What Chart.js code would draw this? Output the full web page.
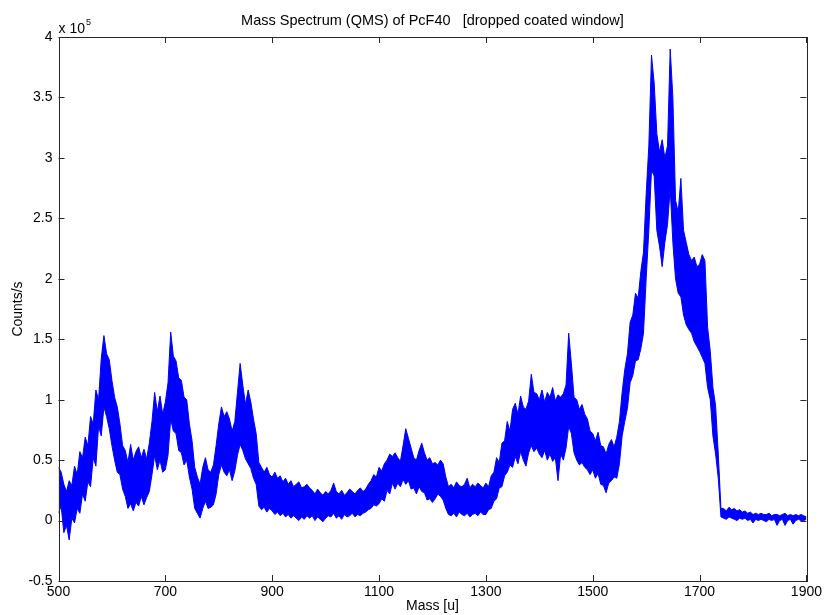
<!DOCTYPE html>
<html>
<head>
<meta charset="utf-8">
<title>Mass Spectrum (QMS) of PcF40</title>
<script src="https://cdn.jsdelivr.net/npm/chart.js@4.4.1/dist/chart.umd.min.js"></script>
<style>
    html, body { margin: 0; padding: 0; background: #fff; }
    #wrap { width: 825px; height: 615px; }
</style>
</head>
<body>
<div id="wrap"><canvas id="spectrum" width="825" height="615"></canvas></div>
<script>
// Sampling grid of the spectrum (mass in u)
const massStart = 500;
const massStep = 5;

// Upper and lower edge of the noise band, counts/s in units of 10^5
const upper = [
    0.44, 0.40, 0.30, 0.24, 0.33, 0.29, 0.45, 0.38, 0.57, 0.52, 0.69, 0.62, 0.86, 0.80, 1.08, 1.00, 1.34, 1.53, 1.38, 1.33, // 500
    1.16, 1.02, 0.94, 0.80, 0.62, 0.58, 0.48, 0.63, 0.50, 0.57, 0.61, 0.52, 0.59, 0.51, 0.64, 0.82, 1.06, 0.90, 1.03, 0.88, // 600
    0.98, 1.14, 1.56, 1.36, 1.32, 1.18, 1.16, 1.02, 1.00, 0.80, 0.66, 0.44, 0.36, 0.30, 0.44, 0.52, 0.42, 0.40, 0.46, 0.62, // 700
    0.80, 0.94, 0.86, 0.90, 0.84, 0.74, 0.82, 1.06, 1.30, 1.12, 0.96, 1.08, 0.98, 0.84, 0.72, 0.48, 0.44, 0.40, 0.44, 0.38, // 800
    0.36, 0.40, 0.35, 0.37, 0.32, 0.35, 0.30, 0.33, 0.28, 0.30, 0.32, 0.27, 0.28, 0.30, 0.27, 0.25, 0.22, 0.26, 0.23, 0.21, // 900
    0.24, 0.22, 0.25, 0.31, 0.24, 0.22, 0.25, 0.21, 0.23, 0.26, 0.24, 0.22, 0.25, 0.27, 0.24, 0.26, 0.30, 0.33, 0.38, 0.36, // 1000
    0.44, 0.41, 0.47, 0.50, 0.55, 0.53, 0.56, 0.52, 0.49, 0.62, 0.76, 0.68, 0.60, 0.52, 0.50, 0.58, 0.64, 0.56, 0.50, 0.52, // 1100
    0.47, 0.48, 0.46, 0.50, 0.47, 0.36, 0.28, 0.30, 0.27, 0.32, 0.29, 0.28, 0.30, 0.35, 0.27, 0.30, 0.28, 0.31, 0.29, 0.27, // 1200
    0.31, 0.28, 0.37, 0.40, 0.52, 0.48, 0.64, 0.66, 0.82, 0.74, 0.92, 0.97, 0.88, 1.03, 0.94, 0.92, 0.99, 1.21, 1.06, 1.05, // 1300
    1.00, 1.08, 0.98, 1.06, 1.02, 1.10, 0.99, 1.04, 1.02, 1.05, 1.12, 1.55, 1.30, 1.02, 1.00, 0.92, 0.96, 0.88, 0.84, 0.74, // 1400
    0.72, 0.66, 0.73, 0.62, 0.61, 0.55, 0.63, 0.67, 0.61, 0.69, 0.82, 1.06, 1.25, 1.38, 1.64, 1.70, 1.88, 1.84, 2.06, 2.22, // 1500
    2.70, 3.10, 3.85, 3.62, 3.20, 3.05, 3.15, 3.00, 3.10, 3.90, 3.50, 2.65, 2.55, 2.83, 2.40, 2.30, 2.20, 2.15, 2.18, 2.10, // 1600
    2.12, 2.20, 2.15, 1.60, 1.40, 1.10, 0.95, 0.55, 0.10, 0.10, 0.08, 0.11, 0.09, 0.10, 0.08, 0.09, 0.07, 0.08, 0.06, 0.07, // 1700
    0.05, 0.06, 0.05, 0.06, 0.05, 0.05, 0.06, 0.04, 0.05, 0.05, 0.04, 0.05, 0.06, 0.04, 0.05, 0.04, 0.05, 0.04, 0.05, 0.04, // 1800
    0.03                                                                                                                    // 1900
];
const lower = [
    0.06, 0.12, -0.10, -0.04, -0.16, 0.02, -0.02, 0.10, 0.06, 0.22, 0.16, 0.32, 0.28, 0.52, 0.45, 0.78, 0.70, 0.94, 0.86, 0.76, // 500
    0.62, 0.50, 0.40, 0.38, 0.26, 0.20, 0.10, 0.14, 0.08, 0.15, 0.12, 0.20, 0.13, 0.19, 0.24, 0.38, 0.54, 0.42, 0.50, 0.40, // 600
    0.42, 0.54, 0.84, 0.74, 0.72, 0.58, 0.56, 0.46, 0.50, 0.36, 0.26, 0.10, 0.06, 0.02, 0.10, 0.16, 0.10, 0.11, 0.13, 0.22, // 700
    0.38, 0.46, 0.40, 0.37, 0.42, 0.33, 0.41, 0.54, 0.63, 0.58, 0.51, 0.47, 0.43, 0.35, 0.30, 0.12, 0.09, 0.11, 0.07, 0.10, // 800
    0.08, 0.05, 0.07, 0.04, 0.06, 0.03, 0.05, 0.02, 0.04, 0.02, 0.00, 0.03, 0.01, 0.04, 0.02, 0.04, 0.00, 0.03, 0.01, -0.01, // 900
    0.02, 0.04, 0.03, 0.06, 0.02, 0.04, 0.01, 0.05, 0.03, 0.04, 0.06, 0.03, 0.05, 0.04, 0.06, 0.07, 0.09, 0.10, 0.13, 0.12, // 1000
    0.14, 0.18, 0.16, 0.25, 0.22, 0.31, 0.26, 0.31, 0.28, 0.34, 0.30, 0.33, 0.26, 0.27, 0.22, 0.28, 0.24, 0.23, 0.17, 0.18, // 1100
    0.15, 0.18, 0.22, 0.20, 0.17, 0.10, 0.05, 0.04, 0.06, 0.03, 0.07, 0.05, 0.04, 0.06, 0.03, 0.05, 0.06, 0.04, 0.07, 0.05, // 1200
    0.05, 0.09, 0.10, 0.16, 0.18, 0.27, 0.28, 0.37, 0.40, 0.46, 0.44, 0.53, 0.47, 0.57, 0.50, 0.45, 0.56, 0.62, 0.57, 0.60, // 1300
    0.55, 0.52, 0.58, 0.50, 0.55, 0.49, 0.52, 0.33, 0.55, 0.50, 0.60, 0.78, 0.72, 0.56, 0.50, 0.46, 0.48, 0.44, 0.42, 0.38, // 1400
    0.42, 0.35, 0.39, 0.30, 0.29, 0.23, 0.31, 0.33, 0.36, 0.35, 0.47, 0.70, 0.82, 0.93, 1.14, 1.20, 1.32, 1.33, 1.42, 1.55, // 1500
    2.00, 2.40, 2.90, 2.85, 2.40, 2.27, 2.10, 2.30, 2.45, 2.75, 2.30, 2.00, 1.88, 1.85, 1.70, 1.62, 1.58, 1.55, 1.48, 1.44, // 1600
    1.40, 1.35, 1.30, 1.10, 1.00, 0.70, 0.55, 0.35, 0.03, 0.02, 0.01, 0.03, 0.02, 0.01, 0.00, 0.02, 0.01, 0.02, 0.00, 0.01, // 1700
    -0.02, 0.01, 0.00, 0.01, 0.00, -0.01, 0.01, 0.00, 0.01, -0.04, 0.00, 0.01, -0.04, 0.00, 0.01, -0.03, 0.00, 0.01, 0.00, 0.00, // 1800
    0.01                                                                                                                    // 1900
];

const massTicks = [500, 700, 900, 1100, 1300, 1500, 1700, 1900];
const countTicks = [-0.5, 0, 0.5, 1, 1.5, 2, 2.5, 3, 3.5, 4];

const titleText = 'Mass Spectrum (QMS) of PcF40   [dropped coated window]';
const FONT = '"Liberation Sans", Arial, Helvetica, sans-serif';
const BLUE = '#0000ff';
const AXIS = '#262626';

function toPoints(values) {
    return values.map((v, i) => ({ x: massStart + i * massStep, y: v }));
}

// box around the plot with inward ticks on all four sides, title and the 10^5 factor
const matlabFrame = {
    id: 'matlabFrame',
    afterDraw(chart) {
        const ctx = chart.ctx;
        const a = chart.chartArea;
        const xs = chart.scales.x;
        const ys = chart.scales.y;
        const tl = 6;

        ctx.save();
        ctx.strokeStyle = AXIS;
        ctx.lineWidth = 1;
        ctx.beginPath();
        xs.ticks.forEach(t => {
            const px = Math.round(xs.getPixelForValue(t.value)) + 0.5;
            ctx.moveTo(px, a.bottom);
            ctx.lineTo(px, a.bottom - tl);
            ctx.moveTo(px, a.top);
            ctx.lineTo(px, a.top + tl);
        });
        ys.ticks.forEach(t => {
            const py = Math.round(ys.getPixelForValue(t.value)) + 0.5;
            ctx.moveTo(a.left, py);
            ctx.lineTo(a.left + tl, py);
            ctx.moveTo(a.right, py);
            ctx.lineTo(a.right - tl, py);
        });
        ctx.stroke();
        ctx.strokeRect(Math.round(a.left) + 0.5, Math.round(a.top) + 0.5,
            Math.round(a.right - a.left), Math.round(a.bottom - a.top));

        ctx.fillStyle = '#000';
        ctx.textBaseline = 'alphabetic';
        ctx.textAlign = 'center';
        ctx.font = '14.5px ' + FONT;
        ctx.fillText(titleText, (a.left + a.right) / 2, 25);

        ctx.textAlign = 'left';
        ctx.font = '14px ' + FONT;
        const base = 'x 10';
        ctx.fillText(base, a.left, a.top - 4);
        const w = ctx.measureText(base).width;
        ctx.font = '9px ' + FONT;
        ctx.fillText('5', a.left + w + 1, a.top - 12);
        ctx.restore();
    }
};

const chart = new Chart(document.getElementById('spectrum'), {
    type: 'line',
    data: {
        datasets: [
            {
                label: 'upper',
                data: toPoints(upper),
                borderColor: BLUE,
                borderWidth: 1,
                pointRadius: 0,
                tension: 0,
                fill: false
            },
            {
                label: 'lower',
                data: toPoints(lower),
                borderColor: BLUE,
                backgroundColor: BLUE,
                borderWidth: 1,
                pointRadius: 0,
                tension: 0,
                fill: '-1'
            }
        ]
    },
    options: {
        responsive: false,
        animation: false,
        devicePixelRatio: 1,
        layout: { padding: { left: 0, right: 18, top: 37, bottom: 0 } },
        plugins: {
            legend: { display: false },
            tooltip: { enabled: false },
            title: { display: false }
        },
        scales: {
            x: {
                type: 'linear',
                min: 500,
                max: 1900,
                grid: { display: false, drawTicks: false },
                border: { display: false },
                afterBuildTicks: s => { s.ticks = massTicks.map(v => ({ value: v })); },
                afterFit: s => { s.height = 34; },
                ticks: {
                    autoSkip: false,
                    maxRotation: 0,
                    padding: 3,
                    color: '#000',
                    font: { family: FONT, size: 14 },
                    callback: v => String(v)
                },
                title: {
                    display: true,
                    text: 'Mass [u]',
                    color: '#000',
                    font: { family: FONT, size: 14 },
                    padding: { top: 1, bottom: 0 }
                }
            },
            y: {
                type: 'linear',
                min: -0.5,
                max: 4,
                grid: { display: false, drawTicks: false },
                border: { display: false },
                afterBuildTicks: s => { s.ticks = countTicks.map(v => ({ value: v })); },
                afterFit: s => { s.width = 58.5; },
                ticks: {
                    autoSkip: false,
                    padding: 6,
                    color: '#000',
                    font: { family: FONT, size: 14 },
                    callback: v => String(v)
                },
                title: {
                    display: true,
                    text: 'Counts/s',
                    color: '#000',
                    font: { family: FONT, size: 14 },
                    padding: { top: 10, bottom: 0 }
                }
            }
        }
    },
    plugins: [matlabFrame]
});
</script>
</body>
</html>
